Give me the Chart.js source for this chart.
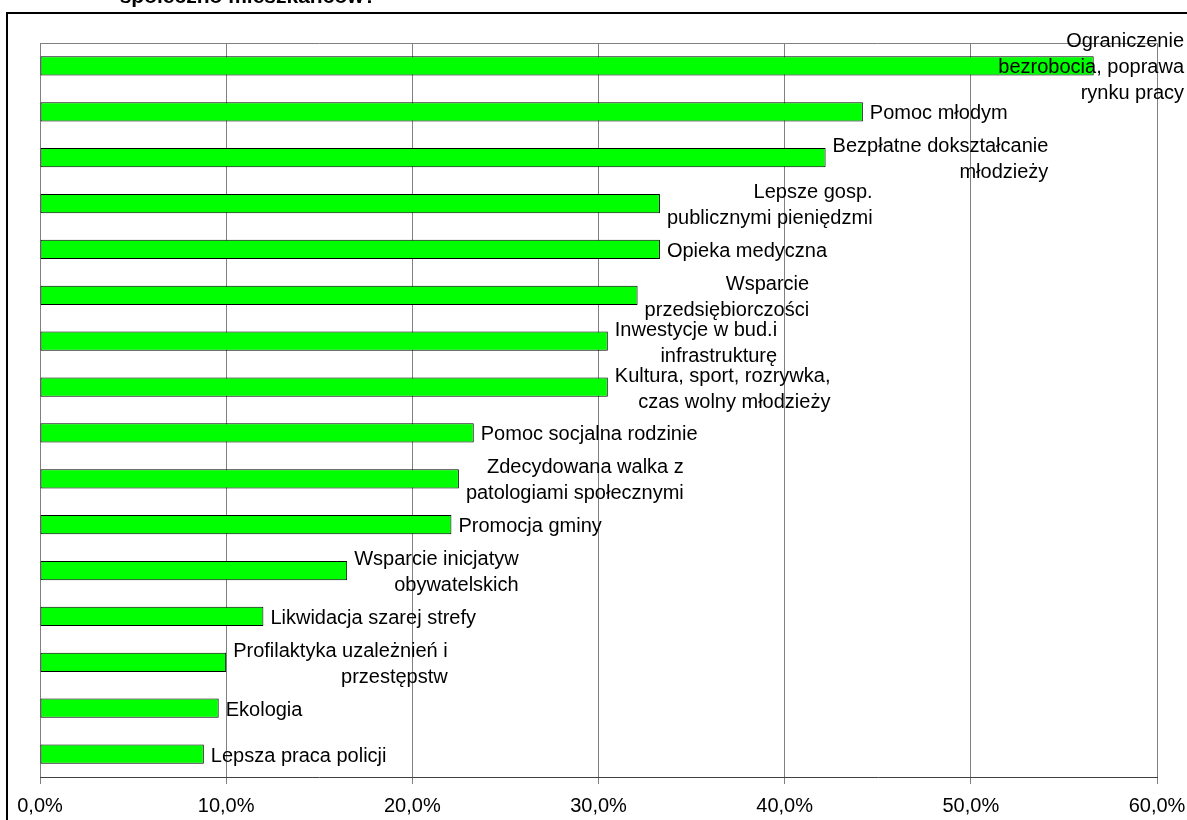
<!DOCTYPE html>
<html>
<head>
<meta charset="utf-8">
<script src="https://cdn.jsdelivr.net/npm/chart.js@4"></script>
<style>
  html, body { margin: 0; padding: 0; background: #fff; }
  #wrap { width: 1187px; height: 820px; position: relative; }
</style>
</head>
<body>
<div id="wrap"><canvas id="myChart"></canvas></div>
<script>
// dane
const titleLine = "społeczno mieszkańców?"

const categories = [
    ["Ograniczenie", "bezrobocia, poprawa", "rynku pracy"],
    ["Pomoc młodym"],
    ["Bezpłatne dokształcanie", "młodzieży"],
    ["Lepsze gosp.", "publicznymi pieniędzmi"],
    ["Opieka medyczna"],
    ["Wsparcie", "przedsiębiorczości"],
    ["Inwestycje w bud.i", "infrastrukturę"],
    ["Kultura, sport, rozrywka,", "czas wolny młodzieży"],
    ["Pomoc socjalna rodzinie"],
    ["Zdecydowana walka z", "patologiami społecznymi"],
    ["Promocja gminy"],
    ["Wsparcie inicjatyw", "obywatelskich"],
    ["Likwidacja szarej strefy"],
    ["Profilaktyka uzależnień i", "przestępstw"],
    ["Ekologia"],
    ["Lepsza praca policji"]
]

const values = [56.6, 44.2, 42.2, 33.3, 33.3, 32.1, 30.5, 30.5, 23.3, 22.5, 22.1, 16.5, 12.0, 10.0, 9.6, 8.8]

const tickLabels = ["0,0%", "10,0%", "20,0%", "30,0%", "40,0%", "50,0%", "60,0%"]

const FONT = "'Liberation Sans', Arial, sans-serif"

// ramka, tytul i obramowanie obszaru wykresu
const ramka = {
    id: "ramka",
    beforeDraw(chart) {
        const ctx = chart.ctx
        ctx.save()
        ctx.fillStyle = "#fff"
        ctx.fillRect(0, 0, chart.width, chart.height)
        ctx.strokeStyle = "#000"
        ctx.lineWidth = 2
        ctx.strokeRect(7, 13, 1300, 1000)
        ctx.fillStyle = "#000"
        ctx.font = "bold 21px " + FONT
        ctx.textAlign = "center"
        ctx.textBaseline = "alphabetic"
        ctx.fillText(titleLine, 248, 3)
        ctx.restore()
    },
    beforeDatasetsDraw(chart) {
        const a = chart.chartArea
        const ctx = chart.ctx
        ctx.save()
        ctx.strokeStyle = "#808080"
        ctx.lineWidth = 1
        ctx.beginPath()
        ctx.moveTo(a.left, a.top + 0.5)
        ctx.lineTo(a.right, a.top + 0.5)
        ctx.stroke()
        ctx.restore()
    }
}

// etykiety przy koncach slupkow
const etykiety = {
    id: "etykiety",
    afterDatasetsDraw(chart) {
        const ctx = chart.ctx
        const meta = chart.getDatasetMeta(0)
        ctx.save()
        ctx.font = "20px " + FONT
        ctx.fillStyle = "#000"
        ctx.textBaseline = "middle"
        ctx.textAlign = "right"
        const lh = 26
        meta.data.forEach((bar, i) => {
            const lines = chart.data.labels[i]
            const w = Math.max(...lines.map(l => ctx.measureText(l).width))
            let left = bar.x + 7
            if (left + w > chart.width - 3) left = chart.width - 3 - w
            const right = left + w
            const y0 = bar.y + 2 - (lines.length - 1) * lh / 2
            lines.forEach((l, j) => ctx.fillText(l, right, y0 + j * lh))
        })
        ctx.restore()
    }
}

const config = {
    type: "bar",
    data: {
        labels: categories,
        datasets: [{
            data: values,
            backgroundColor: "#00ff00",
            borderColor: "#000",
            borderWidth: 1,
            borderSkipped: false,
            barPercentage: 0.42,
            categoryPercentage: 1
        }]
    },
    options: {
        indexAxis: "y",
        responsive: true,
        maintainAspectRatio: false,
        animation: false,
        layout: { padding: { left: 40, right: 30, top: 43, bottom: 1 } },
        plugins: {
            legend: { display: false },
            tooltip: { enabled: false }
        },
        scales: {
            x: {
                min: 0,
                max: 60,
                afterFit: (s) => { s.paddingLeft = 0; s.paddingRight = 0; s.height = 42 },
                grid: { color: "#808080", lineWidth: 1, tickLength: 7, drawTicks: true },
                border: { display: true, color: "#404040", width: 1 },
                ticks: {
                    stepSize: 10,
                    padding: 12,
                    color: "#000",
                    font: { family: FONT, size: 20, lineHeight: 1 },
                    maxRotation: 0,
                    callback: (v, i) => tickLabels[i]
                }
            },
            y: {
                display: false
            }
        }
    },
    plugins: [ramka, etykiety]
}

new Chart(document.getElementById("myChart"), config)
</script>
</body>
</html>
